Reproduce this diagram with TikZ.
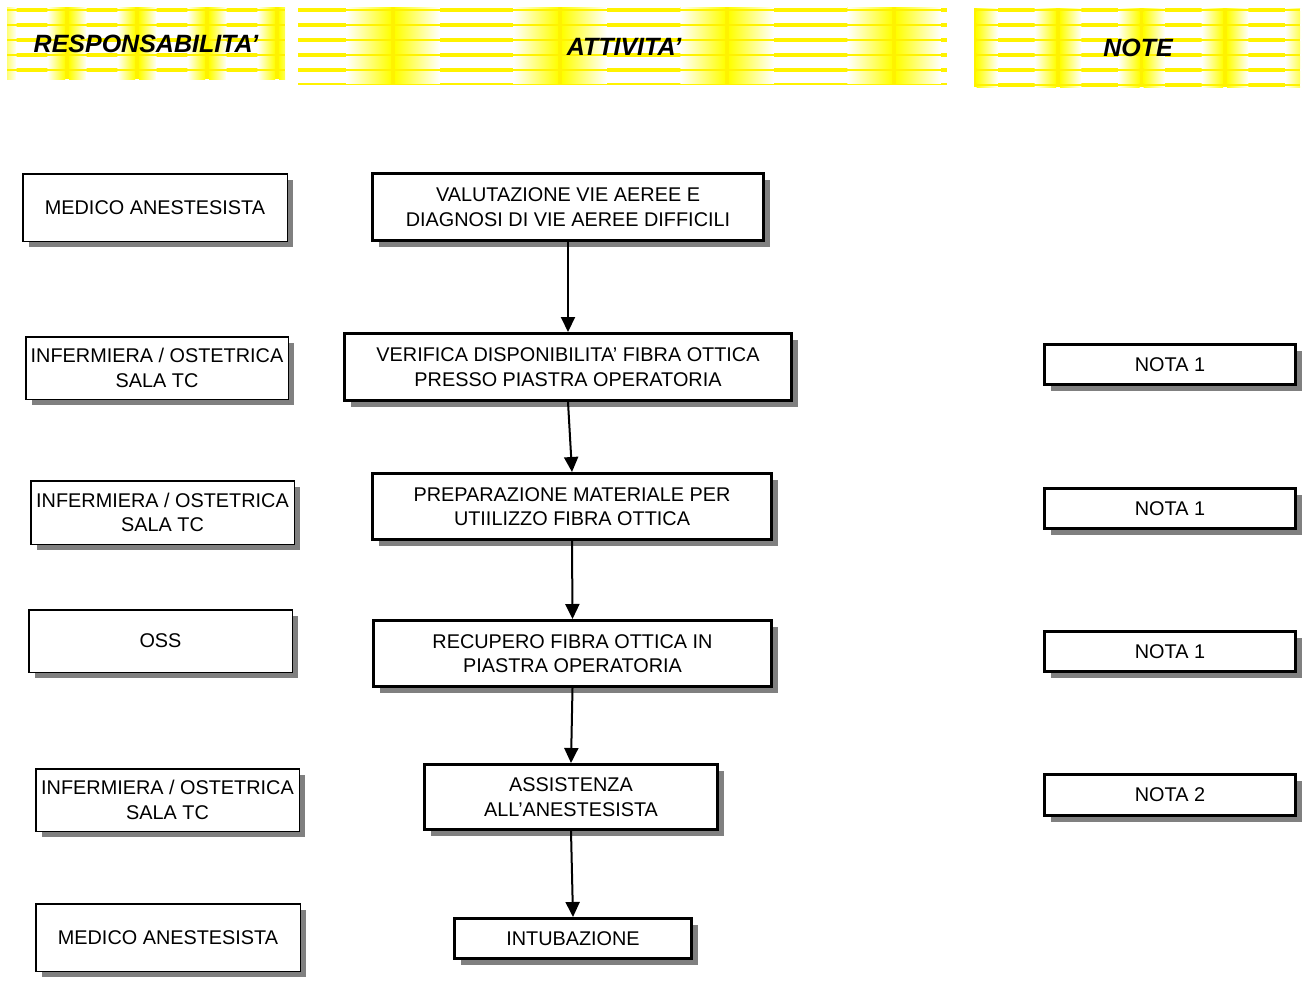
\documentclass[tikz,border=0pt]{standalone}
\usepackage{fontspec}
\setmainfont{Liberation Sans}
\usetikzlibrary{arrows.meta,shadows}
\newcommand\hdrbg[8]{%
\begin{scope}
\clip (#1,#2) rectangle (#3,#4);
\fill[yellow] (#1,#2) rectangle (#3,#4);
\pgfmathtruncatemacro\nc{ceil((#3-#5)/#6)}
\pgfmathtruncatemacro\nr{ceil((#4-#7)/#8)}
\foreach \i in {0,...,\nc}{
 \foreach \j in {0,...,\nr}{
   \pgfmathsetmacro\cx{#5+\i*#6}
   \pgfmathsetmacro\ry{#7+\j*#8}
   \pgfmathsetmacro\xa{\cx+2}
   \pgfmathsetmacro\xb{\cx+0.28*#6}
   \pgfmathsetmacro\xc{\cx+0.72*#6}
   \pgfmathsetmacro\xd{\cx+#6-2}
   \pgfmathsetmacro\ya{\ry+1.6}
   \pgfmathsetmacro\yb{\ry+#8-1.6}
   \shade[left color=yellow, right color=white] (\xa,\ya) rectangle (\xb,\yb);
   \fill[white] (\xb-0.2,\ya) rectangle (\xc+0.2,\yb);
   \shade[left color=white, right color=yellow] (\xc,\ya) rectangle (\xd,\yb);
 }}
\end{scope}}
\begin{document}
\begin{tikzpicture}[x=1pt,y=-1pt,
  txt/.style={font=\fontsize{19.85}{24.5}\selectfont, align=center, inner sep=0pt},
  shad/.style={drop shadow={shadow xshift=6pt, shadow yshift=-6pt, fill=black!50, opacity=1}},
  leftbox/.style={txt, draw, line width=1.5pt, fill=white, shad},
  actbox/.style={txt, draw, line width=3pt, fill=white, shad},
  notebox/.style={txt, draw, line width=3pt, fill=white, shad, minimum width=251pt},
  hdr/.style={font=\fontsize{25}{30}\selectfont\bfseries\itshape, inner sep=0pt},
  flow/.style={line width=2pt, -{Triangle[width=14pt,length=15pt]}}]
\useasboundingbox (0,0) rectangle (1303,983);
% headers
\hdrbg{7}{7}{285}{79}{-3}{70}{-5}{15}
\hdrbg{298}{7}{947}{85}{226}{167}{-5}{15}
\hdrbg{974}{8}{1300}{87}{891}{83.5}{-5}{15}
\node[hdr] (h1) at (146,44) {RESPONSABILITA’};
\node[hdr] (h2) at (624,47) {ATTIVITA’};
\node[hdr] (h3) at (1138,48) {NOTE};
% left column
\node[leftbox, minimum width=264.5pt, minimum height=67.5pt] (l1) at (155,207.5) {MEDICO ANESTESISTA};
\node[leftbox, minimum width=262.5pt, minimum height=62.5pt] (l2) at (157,368) {INFERMIERA / OSTETRICA\\SALA TC};
\node[leftbox, minimum width=263.5pt, minimum height=63.5pt] (l3) at (162.5,512.5) {INFERMIERA / OSTETRICA\\SALA TC};
\node[leftbox, minimum width=263.5pt, minimum height=62.5pt] (l4) at (160.5,641) {OSS};
\node[leftbox, minimum width=263.5pt, minimum height=62.5pt] (l5) at (167.5,800) {INFERMIERA / OSTETRICA\\SALA TC};
\node[leftbox, minimum width=264.5pt, minimum height=67.5pt] (l6) at (168,937.5) {MEDICO ANESTESISTA};
% activities
\node[actbox, minimum width=391pt, minimum height=67pt] (m1) at (568,207) {VALUTAZIONE VIE AEREE E\\DIAGNOSI DI VIE AEREE DIFFICILI};
\node[actbox, minimum width=447pt, minimum height=67pt] (m2) at (568,367) {VERIFICA DISPONIBILITA’ FIBRA OTTICA\\PRESSO PIASTRA OPERATORIA};
\node[actbox, minimum width=399pt, minimum height=66pt] (m3) at (572,506.5) {PREPARAZIONE MATERIALE PER\\UTIILIZZO FIBRA OTTICA};
\node[actbox, minimum width=398pt, minimum height=66pt] (m4) at (572.5,653.5) {RECUPERO FIBRA OTTICA IN\\PIASTRA OPERATORIA};
\node[actbox, minimum width=293pt, minimum height=65pt] (m5) at (571,797) {ASSISTENZA\\ALL’ANESTESISTA};
\node[actbox, minimum width=237pt, minimum height=40pt] (m6) at (573,938.5) {INTUBAZIONE};
% notes
\node[notebox, minimum height=40pt] (n1) at (1170,364.5) {NOTA 1};
\node[notebox, minimum height=40pt] (n2) at (1170,508.5) {NOTA 1};
\node[notebox, minimum height=40pt] (n3) at (1170,651.5) {NOTA 1};
\node[notebox, minimum height=41pt] (n4) at (1170,795) {NOTA 2};
% connectors
\draw[flow] (m1.south) -- (m2.north);
\draw[flow] (m2.south) -- (m3.north);
\draw[flow] (m3.south) -- (m4.north);
\draw[flow] (m4.south) -- (m5.north);
\draw[flow] (m5.south) -- (m6.north);
\end{tikzpicture}
\end{document}
